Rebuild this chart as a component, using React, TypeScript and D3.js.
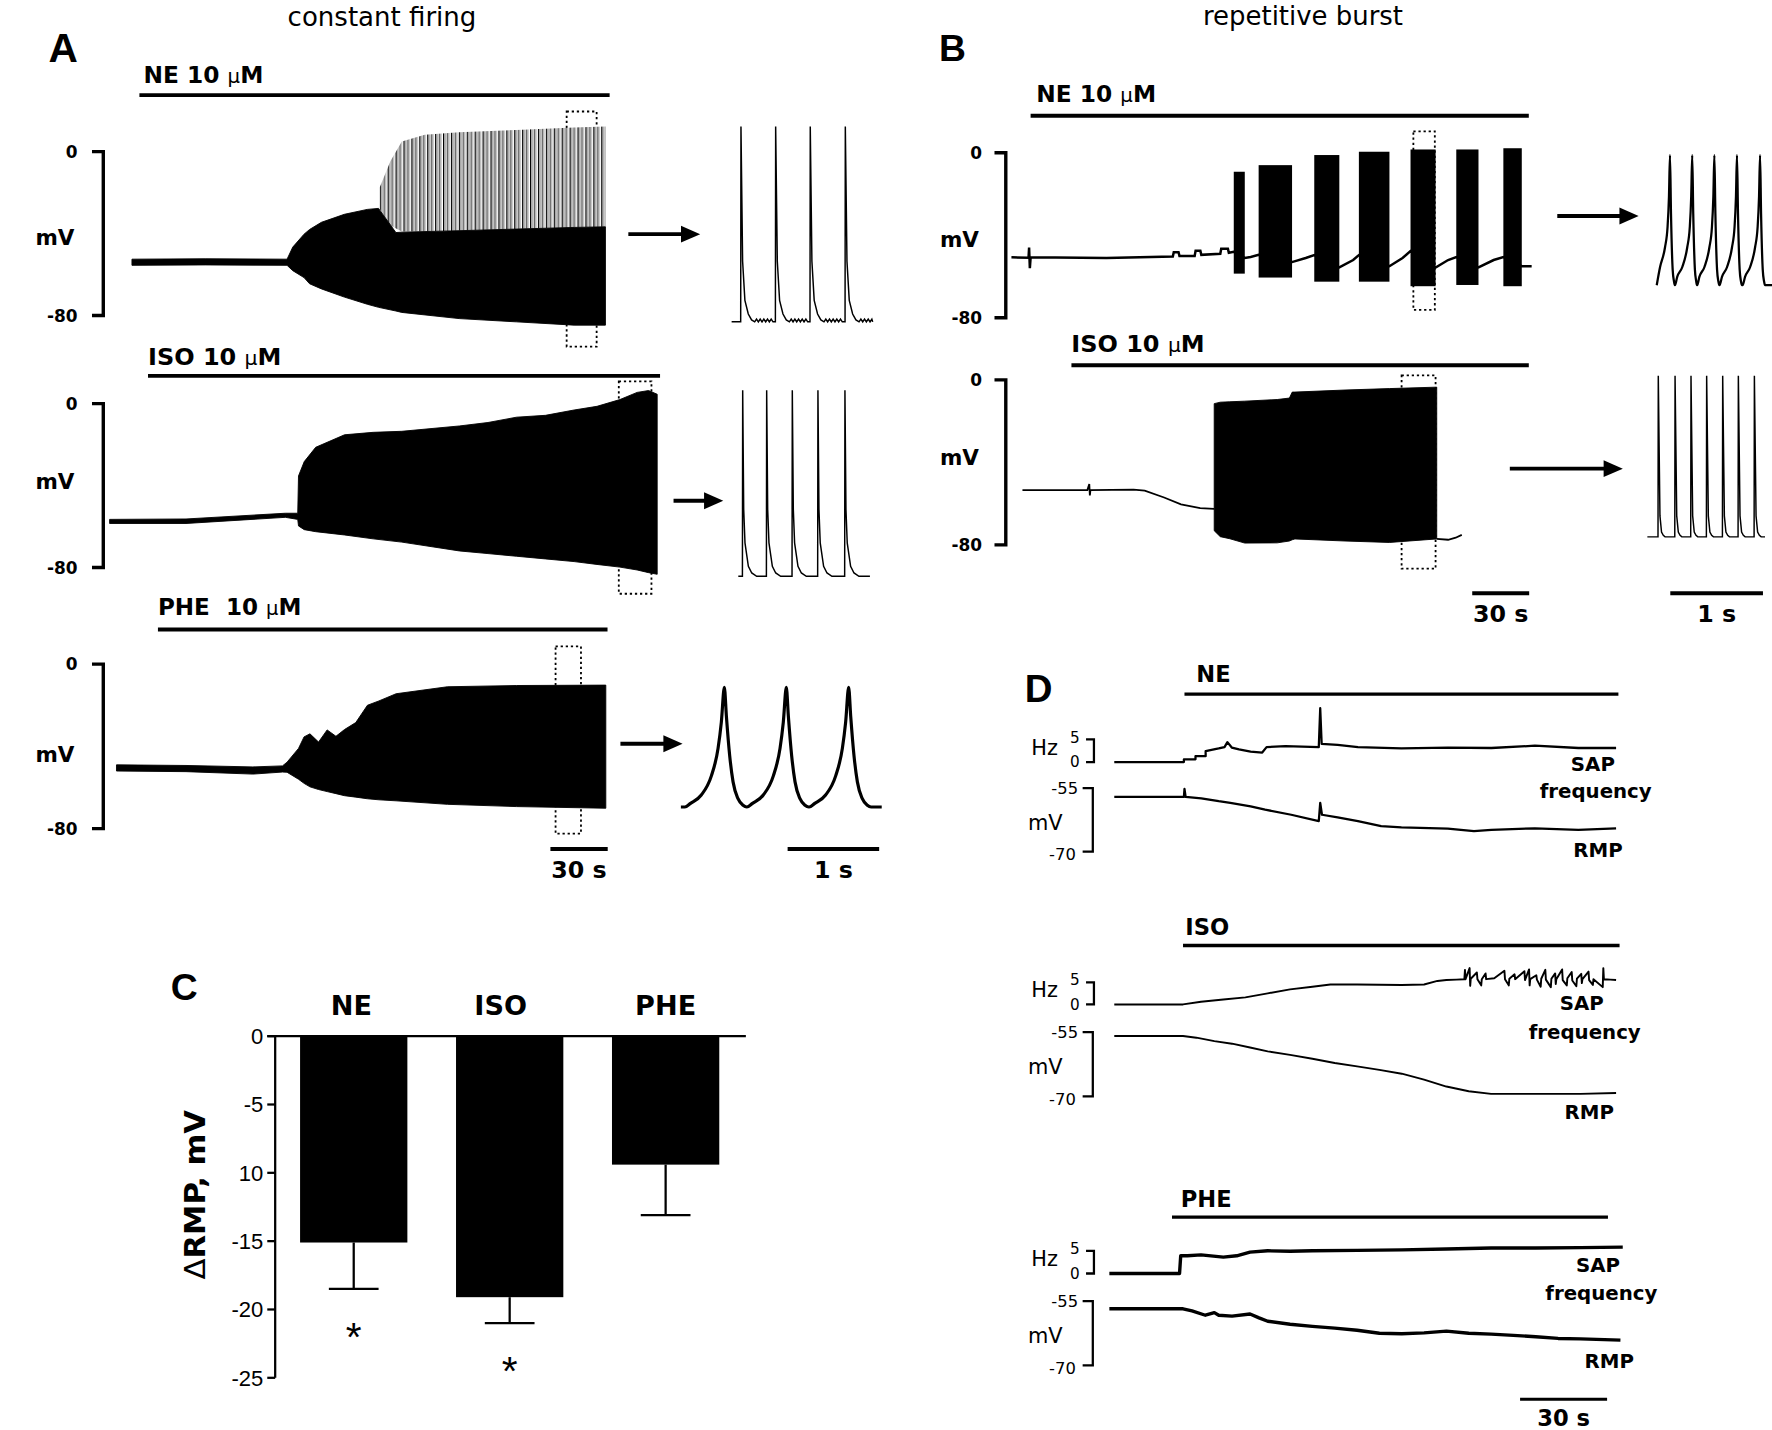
import React from 'react';
import * as d3 from 'd3';

const VB = "'DejaVu Sans', Verdana, sans-serif";
const AR = "'Liberation Sans', Arial, sans-serif";

// ---------------- Panel A (time s, membrane potential mV) ----------------
// envelope rows: [t, upper mV, lower mV]
const A_NE_ENV: [number, number, number][] = [
  [11.7, -52.5, -55.5], [50, -52.3, -55.3], [92.9, -52.5, -55.5], [95.9, -46.6, -58.1], [101.8, -40.3, -61.5],
  [104.7, -38, -64.5], [110.9, -34.5, -67], [122.9, -30.6, -71], [134.9, -28.2, -74.5], [140.8, -27.7, -76],
  [149.9, -39.5, -77.8], [153, -39.3, -78.5], [183, -38.6, -81.5], [213, -37.8, -83.1], [243.2, -37, -84.7], [259.6, -36.7, -84.7],
];
const A_NE_SPIKES: [number, number, number][] = [
  [141.4, -17.5, -28], [147, -4.7, -36], [153, 4.9, -39], [165, 8.2, -39], [183, 9.5, -38.6],
  [213, 10.6, -37.8], [243.2, 11.8, -37], [259.6, 12.3, -36.7],
];
const A_ISO_ENV: [number, number, number][] = [
  [0, -56.5, -58.5], [40, -56.3, -58.5], [92, -53.5, -55.5], [98.5, -53.5, -56.5],
  [98.9, -35.3, -59.7], [101.9, -28.3, -61.5], [107.9, -21.3, -62.5], [123, -15.2, -64.1], [138, -14, -66],
  [153, -13.5, -67.6], [183.1, -10.9, -71.9], [198.1, -9.2, -73.2], [213.1, -6.6, -74.5], [228.2, -5.7, -75.8],
  [243.2, -3.1, -77.1], [255.2, -1.3, -78.5], [267.2, 2, -79.8], [276.2, 5.5, -81.2], [282.2, 6.4, -82.5], [286.7, 4.6, -83.3],
];
const A_PHE_ENV: [number, number, number][] = [
  [3.6, -49, -52], [40, -49.3, -52.3], [75, -50, -53.5], [90.5, -49.5, -52.5], [92.9, -47.7, -52.6], [98.9, -41, -56],
  [101.8, -35.4, -58], [104.9, -33.9, -59.7], [109.4, -37.9, -61], [113.9, -32, -62], [118.5, -35.1, -63],
  [123, -31.8, -64], [128.9, -28.4, -64.7], [135, -20, -65.5], [141, -17.9, -66], [150, -14.4, -66.5],
  [176.9, -11, -68.2], [213, -10.4, -69.3], [259.8, -10.2, -70.1],
];
// drug application bars [start, end] (s)
const A_BARS: [number, number][] = [[15.6, 261.8], [20.1, 288.2], [25.3, 260.7]];
// dotted zoom windows [t0, t1, top mV, bottom mV]
const A_BOXES: [number, number, number, number][] = [[239.3, 255, 19.6, -95.2], [266.6, 283.7, 10.9, -92.8], [233.5, 246.8, 8.6, -82.5]];

// insets: spike times (ms)
const INS_A_NE_TIMES = [102, 481, 859, 1242];
const INS_A_ISO_TIMES = [48, 310, 590, 870, 1165];
const INS_A_PHE_TIMES = [475, 1152, 1833];
const INS_B_NE_TIMES = [143, 383, 622, 866, 1115];
const INS_B_ISO_TIMES = [118, 299, 471, 640, 813, 982, 1155];
// spike waveform shapes: [ms from peak, fraction of amplitude]
const SHAPE_A_NE: [number, number][] = [[-12, 0], [-3, 0], [0, 1], [18, 0.31], [43, 0.11], [80, 0.04], [116, 0.01], [150, 0],
  [170, 0.014], [190, 0], [210, 0.014], [230, 0], [250, 0.014], [270, 0], [290, 0.014], [310, 0], [330, 0.014], [350, 0]];
const SHAPE_A_ISO: [number, number][] = [[-12, 0], [-3, 0], [0, 1], [11, 0.36], [25, 0.18], [62, 0.054], [99, 0.018], [153, 0]];
const SHAPE_A_PHE: [number, number][] = [[-432, 0], [-370, 0.03], [-252, 0.1], [-142, 0.26], [-69, 0.49], [-33, 0.71], [0, 1], [22, 0.76], [58, 0.43], [95, 0.21], [149, 0.07], [204, 0.014], [245, 0]];
const SHAPE_B_NE: [number, number][] = [[-188, 0], [-162, 0.064], [-107, 0.14], [-54, 0.29], [-26, 0.45], [-11, 0.68], [0, 1], [11, 0.55], [29, 0.12], [43, 0.03], [54, 0]];
const SHAPE_B_ISO: [number, number][] = [[-12, 0], [-3, 0], [0, 1], [18, 0.13], [35, 0.03], [54, 0.01], [73, 0]];

// ---------------- Panel B ----------------
const B_NE_LINE: [number, number][] = [
  [0, -50.7], [9, -50.9], [9.3, -46], [9.7, -56], [10.1, -50.7], [50, -51], [85, -50.3], [85.5, -48.2], [88, -48.2], [88.5, -50],
  [96.5, -50], [97, -47.5], [99.5, -47.5], [100, -49.5], [110, -49], [110.5, -46.5], [114, -46.5], [114.5, -48.5], [117.1, -48],
  [122.9, -51], [126, -50.5], [130.2, -49.5], [147.8, -53], [155, -51], [159.5, -49.6], [172.7, -55.6], [180, -52],
  [183, -49.6], [199.1, -55], [206, -51], [210.2, -47.7], [223.4, -55.6], [230, -52], [234.3, -50.6], [246, -55.6],
  [254, -52], [259.1, -50.6], [268.8, -55], [274, -55],
];
// bursts: [start, end, top mV, bottom mV]
const B_NE_BURSTS: [number, number, number, number][] = [
  [117.1, 122.9, -9.2, -58.6], [130.2, 147.8, -6, -60.5], [159.5, 172.7, -1.1, -62.5], [183, 199.1, 0.5, -62.5],
  [210.2, 223.4, 1.6, -64.7], [234.3, 246, 1.6, -64.1], [259.1, 268.8, 2.2, -64.7],
];
const B_ISO_LINE: [number, number][] = [
  [5.8, -53.4], [40, -53.4], [41, -50.5], [41.3, -56], [41.6, -53.4], [64.3, -53.2], [70.2, -53.7], [80.4, -57],
  [89.3, -60.3], [99.4, -62.2], [106.8, -62.5],
];
const B_ISO_AFTER: [number, number][] = [[224, -77.1], [230, -77.5], [234, -76.5], [237.2, -75.1]];
const B_ISO_ENV: [number, number, number][] = [
  [106.8, -11.5, -73.1], [110, -10.8, -76], [115, -10.6, -77], [122.9, -10.3, -79.1], [140, -9.5, -79], [146.4, -8.8, -78.1],
  [147.9, -5.9, -77.5], [149.3, -5.9, -77.1], [175.7, -4.9, -78.1], [199.1, -4.2, -78.8], [224, -3.5, -77.1],
];
const B_BARS: [number, number][] = [[10.1, 272.5], [31.6, 272.5]];
const B_BOXES: [number, number, number, number][] = [[211.7, 223, 10.4, -76.2], [205.5, 223.4, 2.2, -91.5]];

// ---------------- Panel C ----------------
const C_CATS = ['NE', 'ISO', 'PHE'];
const C_MEANS = [-15.1, -19.1, -9.4];
const C_ERRS = [-18.5, -21, -13.1];
const C_SIG = [true, true, false];
const C_TICKS = [0, -5, -10, -15, -20, -25];
const C_TICK_LABELS = ['0', '-5', '10', '-15', '-20', '-25'];

// ---------------- Panel D (time s; Hz; mV) ----------------
const D_NE_SAP: [number, number][] = [
  [0, 0], [24, 0], [24, 0.6], [28, 0.6], [28, 1.3], [31.5, 1.3], [31.5, 2.4], [36, 3], [38, 3.3], [39, 4.4], [40.5, 3.2],
  [43, 2.8], [47, 2.3], [51, 2.1], [52.5, 3.3], [59, 3.5], [70.5, 3.3], [71, 11.9], [71.5, 4], [77, 3.8], [84, 3.3],
  [99, 3], [115, 3.2], [130, 3.1], [145, 3.6], [160, 3.1], [173, 3.1],
];
const D_NE_RMP: [number, number][] = [
  [0, -57.1], [24, -57.1], [24.2, -55.2], [24.6, -57.1], [30, -57.4], [36, -58.1], [40, -58.5], [47, -59.3], [52, -60.1],
  [61, -61.3], [70.5, -62.8], [71, -58.5], [71.6, -61.3], [77, -61.9], [84, -62.8], [92, -64], [99, -64.3], [115, -64.6],
  [124, -65.2], [130, -64.9], [145, -64.5], [160, -64.9], [173, -64.5],
];
const D_ISO_SAP: [number, number][] = [
  [0, 0], [23.7, 0], [29.9, 0.6], [37.6, 1.1], [45.2, 1.6], [52.9, 2.5], [60.6, 3.4], [68.3, 4], [74.5, 4.5], [83.7, 4.5],
  [99.1, 4.4], [106.8, 4.5], [111.4, 5.3], [114.5, 5.5], [118, 5.6], [120.7, 5.7], [120.9, 7.8], [121.1, 5.7], [122.5, 8.2],
  [122.7, 4.2], [122.9, 5.8], [125, 7.2], [125.2, 5.7], [126.5, 4.3], [126.7, 5.7], [128, 7], [128.2, 5.7], [131, 5.9],
  [134.5, 7.6], [134.7, 5.7], [136, 4.3], [136.2, 5.8], [138, 6.8], [138.2, 5.7], [141.4, 7.5],
  [141.6, 5.5], [143, 7.9], [143.2, 4.3], [143.4, 5.7], [145.5, 6.6], [145.7, 5.6], [147, 4.0], [147.2, 5.8], [148.6, 7.8],
  [148.8, 5.6], [150.5, 3.9], [150.7, 5.8], [152, 7.0], [152.2, 4.6], [152.4, 5.7], [154.4, 7.9], [154.6, 5.5], [156, 4.3],
  [156.2, 5.9], [157.7, 7.3], [157.9, 5.4], [159.3, 4.1], [159.5, 5.8], [161, 6.9], [161.2, 4.8], [161.4, 5.7], [163.5, 7.4],
  [163.7, 5.5], [165, 4.4], [165.2, 5.7], [168.4, 3.9], [168.6, 8.2], [168.8, 5.7], [171, 5.6], [173, 5.5],
];
const D_ISO_RMP: [number, number][] = [
  [0, -55.9], [23.7, -55.9], [28.3, -56.3], [34.5, -57.1], [40.6, -57.7], [46.8, -58.6], [52.9, -59.5], [60.6, -60.3],
  [68.3, -61.2], [76, -62.2], [83.7, -63], [91.4, -63.8], [99.1, -64.7], [106.8, -66.1], [114.5, -67.7], [122.2, -68.8],
  [129.9, -69.4], [145.3, -69.4], [160.7, -69.4], [173, -69.2],
];
const D_PHE_SAP: [number, number][] = [
  [-1.7, 0], [22.5, 0], [22.9, 3.9], [25.2, 3.9], [29.9, 4.1], [37.6, 3.6], [42.2, 3.9], [46.8, 4.7], [52.9, 5], [60.6, 4.9],
  [68.3, 5], [83.7, 5.1], [99.1, 5.2], [114.5, 5.4], [129.9, 5.6], [145.3, 5.6], [160.7, 5.7], [175.3, 5.8],
];
const D_PHE_RMP: [number, number][] = [
  [-1.7, -56.8], [23.7, -56.8], [26.8, -57.3], [31.4, -58.3], [34.5, -57.7], [36, -58.3], [40.6, -58.5], [46.8, -58],
  [49.9, -58.9], [52.9, -59.7], [60.6, -60.4], [68.3, -60.9], [76, -61.3], [83.7, -61.8], [91.4, -62.5], [99.1, -62.6],
  [106.8, -62.4], [114.5, -62], [122.2, -62.5], [129.9, -62.7], [137.6, -63], [145.3, -63.3], [153, -63.7], [160.7, -63.8], [174.5, -64.1],
];
const D_BARS: [number, number][] = [[24.2, 173.8], [23.7, 174.2], [19.9, 170.2]];
const D_NAMES = ['NE', 'ISO', 'PHE'];

// ---------------- helpers ----------------
function spikeTrain(times: number[], shape: [number, number][], end: number, base: number, peak: number): [number, number][] {
  const pts: [number, number][] = [[0, 0]];
  times.forEach((t) => shape.forEach(([dt, f]) => { const tt = t + dt; if (tt > 0 && tt < end) pts.push([tt, f]); }));
  pts.push([end, 0]);
  pts.sort((a, b) => a[0] - b[0]);
  return pts.map(([t, f]) => [t, base + f * (peak - base)]);
}

const envArea = (x: any, y: any) => d3.area<[number, number, number]>().x((d) => x(d[0])).y0((d) => y(d[2])).y1((d) => y(d[1]));
const ln = (x: any, y: any) => d3.line<[number, number]>().x((d) => x(d[0])).y((d) => y(d[1]));

function MuLabel({ x, y, drug, gap, len }: { x: number; y: number; drug: string; gap?: number; len: number }) {
  return (
    <text x={x} y={y} fontFamily={VB} fontWeight="bold" fontSize={20} textLength={len} lengthAdjust="spacingAndGlyphs">
      <tspan>{drug}</tspan>
      <tspan dx={gap ?? 0}>{' 10 '}</tspan>
      <tspan fontWeight="normal" fontSize={17}>μ</tspan>
      <tspan>M</tspan>
    </text>
  );
}

function MvAxis({ x, y, mid, lab }: { x: number; y: any; mid: number; lab: number }) {
  const y0 = y(0), y1 = y(-80);
  return (
    <g fontFamily={VB} fontWeight="bold">
      <path d={`M${x - 10},${y0}H${x}V${y1}H${x - 10}`} fill="none" stroke="#000" strokeWidth={3} />
      <text x={x - lab} y={y0} dy="0.36em" textAnchor="end" fontSize={15}>0</text>
      <text x={x - lab} y={y1} dy="0.36em" textAnchor="end" fontSize={15}>-80</text>
      <text x={x - lab - 20} y={mid} dy="0.36em" textAnchor="middle" fontSize={19}>mV</text>
    </g>
  );
}

function Arrow({ x0, x1, y }: { x0: number; x1: number; y: number }) {
  return (
    <g>
      <line x1={x0} x2={x1 - 12} y1={y} y2={y} stroke="#000" strokeWidth={3.5} />
      <path d={`M${x1},${y}L${x1 - 17},${y - 7.5}L${x1 - 17},${y + 7.5}Z`} fill="#000" />
    </g>
  );
}

function DotBox({ x, y, b }: { x: any; y: any; b: [number, number, number, number] }) {
  return (
    <rect x={x(b[0])} y={y(b[2])} width={x(b[1]) - x(b[0])} height={y(b[3]) - y(b[2])} fill="none" stroke="#000" strokeWidth={1.6} strokeDasharray="2,2.5" />
  );
}

export default function App() {
  // Panel A scales
  const xA = d3.scaleLinear().domain([0, 30]).range([97, 97 + 50.7]);
  const yANE = d3.scaleLinear().domain([0, -80]).range([134, 279]);
  const yAISO = d3.scaleLinear().domain([0, -80]).range([357, 502]);
  const yAPHE = d3.scaleLinear().domain([0, -80]).range([587.5, 733]);
  // Panel B scales
  const xB = d3.scaleLinear().domain([0, 30]).range([895, 895 + 50.4]);
  const yBNE = d3.scaleLinear().domain([0, -80]).range([135, 281]);
  const yBISO = d3.scaleLinear().domain([0, -80]).range([336, 482]);
  // inset scales (ms)
  const xInANE = d3.scaleLinear().domain([0, 1000]).range([647.4, 647.4 + 81]);
  const xInAISO = d3.scaleLinear().domain([0, 1000]).range([653.3, 653.3 + 81]);
  const xInAPHE = d3.scaleLinear().domain([0, 1000]).range([602.5, 602.5 + 81]);
  const xInBNE = d3.scaleLinear().domain([0, 1000]).range([1466, 1466 + 82]);
  const xInBISO = d3.scaleLinear().domain([0, 1000]).range([1457.7, 1457.7 + 82]);

  const insANE = spikeTrain(INS_A_NE_TIMES, SHAPE_A_NE, 1541, -83.1, 12.3);
  const insAISO = spikeTrain(INS_A_ISO_TIMES, SHAPE_A_ISO, 1438, -84.3, 6.6);
  const insAPHE = spikeTrain(INS_A_PHE_TIMES, SHAPE_A_PHE, 2194, -69.5, -11.3);
  const insBNE = spikeTrain(INS_B_NE_TIMES, SHAPE_B_NE, 1244, -64.2, -1.2);
  const insBISO = spikeTrain(INS_B_ISO_TIMES, SHAPE_B_ISO, 1270, -76.1, 2);

  // Panel C
  const xC = d3.scaleBand<string>().domain(C_CATS).range([244, 658]).paddingInner(0.312).paddingOuter(0.156);
  const yC = d3.scaleLinear().domain([0, -25]).range([916.7, 1219]);

  // Panel D
  const xD = d3.scaleLinear().domain([0, 30]).range([986, 986 + 77]);
  const dRows = [
    { hz: d3.scaleLinear().domain([0, 5]).range([674.1, 654.1]), mv: d3.scaleLinear().domain([-55, -70]).range([697.2, 753.3]), sap: D_NE_SAP, rmp: D_NE_RMP, sw: 2, labT: 28.3, labY: 602.9, barY: 614, txt: [[1409.5, 681.7], [1412, 706.1], [1414, 757.8]] },
    { hz: d3.scaleLinear().domain([0, 5]).range([888.6, 869]), mv: d3.scaleLinear().domain([-55, -70]).range([913.1, 970]), sap: D_ISO_SAP, rmp: D_ISO_RMP, sw: 1.7, labT: 24.5, labY: 827.6, barY: 836.5, txt: [[1399.6, 893.5], [1402.3, 918.9], [1406.3, 990.1]] },
    { hz: d3.scaleLinear().domain([0, 5]).range([1126.7, 1106.6]), mv: d3.scaleLinear().domain([-55, -70]).range([1151.1, 1208.1]), sap: D_PHE_SAP, rmp: D_PHE_RMP, sw: 3, labT: 22.9, labY: 1067.9, barY: 1076.8, txt: [[1414, 1125.8], [1417, 1150.2], [1424, 1210.3]] },
  ];

  return (
    <svg width={1772} height={1430} viewBox="0 0 1568 1265" style={{ position: 'absolute', left: 0, top: 0, background: '#fff' }}>
      <defs>
        <pattern id="spk" width="7" height="6" patternUnits="userSpaceOnUse">
          <rect width="7" height="6" fill="#fff" />
          <rect x="0" width="1.2" height="6" fill="#000" />
          <rect x="1.2" width="1.3" height="6" fill="#a8a8a8" />
          <rect x="3.3" width="0.9" height="6" fill="#222" />
          <rect x="4.2" width="1.6" height="6" fill="#b5b5b5" />
        </pattern>
      </defs>
      <rect width={1568} height={1265} fill="#fff" />

      {/* Titles & panel letters */}
      <text x={338} y={23} textAnchor="middle" fontFamily={VB} fontSize={23} textLength={167} lengthAdjust="spacingAndGlyphs">constant firing</text>
      <text x={1153} y={22} textAnchor="middle" fontFamily={VB} fontSize={23} textLength={177} lengthAdjust="spacingAndGlyphs">repetitive burst</text>
      <text x={43} y={54.6} fontFamily={AR} fontWeight="bold" fontSize={36}>A</text>
      <text x={830.8} y={54.2} fontFamily={AR} fontWeight="bold" fontSize={33}>B</text>
      <text x={151} y={885} fontFamily={AR} fontWeight="bold" fontSize={33}>C</text>
      <text x={906.7} y={620.7} fontFamily={AR} fontWeight="bold" fontSize={34}>D</text>

      {/* ===== Panel A ===== */}
      <MuLabel x={127} y={73.2} drug="NE" len={106} />
      <MuLabel x={131} y={322.4} drug="ISO" len={118} />
      <MuLabel x={139.7} y={544.2} drug="PHE" gap={7} len={127} />
      {A_BARS.map((b, i) => (
        <line key={i} x1={xA(b[0])} x2={xA(b[1])} y1={[84, 332.4, 556.8][i]} y2={[84, 332.4, 556.8][i]} stroke="#000" strokeWidth={3.5} />
      ))}
      <MvAxis x={91.4} y={yANE} mid={209.5} lab={22.8} />
      <MvAxis x={91.4} y={yAISO} mid={425.7} lab={22.8} />
      <MvAxis x={91.4} y={yAPHE} mid={667.5} lab={22.8} />

      <DotBox x={xA} y={yANE} b={A_BOXES[0]} />
      <DotBox x={xA} y={yAISO} b={A_BOXES[1]} />
      <DotBox x={xA} y={yAPHE} b={A_BOXES[2]} />

      <path d={envArea(xA, yANE)(A_NE_SPIKES) ?? ''} fill="url(#spk)" />
      <path d={envArea(xA, yANE)(A_NE_ENV) ?? ''} fill="#000" stroke="#000" strokeWidth={0.8} />
      <path d={envArea(xA, yAISO)(A_ISO_ENV) ?? ''} fill="#000" stroke="#000" strokeWidth={0.8} />
      <path d={envArea(xA, yAPHE)(A_PHE_ENV) ?? ''} fill="#000" stroke="#000" strokeWidth={0.8} />

      <Arrow x0={556} x1={619.6} y={207} />
      <Arrow x0={596} x1={640} y={443} />
      <Arrow x0={549} x1={604} y={658} />

      <path d={ln(xInANE, yANE)(insANE) ?? ''} fill="none" stroke="#000" strokeWidth={1.3} />
      <path d={ln(xInAISO, yAISO)(insAISO) ?? ''} fill="none" stroke="#000" strokeWidth={1.3} />
      <path d={d3.line<[number, number]>().x((d) => xInAPHE(d[0])).y((d) => yAPHE(d[1])).curve(d3.curveMonotoneX)(insAPHE) ?? ''} fill="none" stroke="#000" strokeWidth={2.8} />

      {/* scale bars A */}
      <line x1={xA(230.8)} x2={xA(260.8)} y1={751} y2={751} stroke="#000" strokeWidth={3.5} />
      <text x={xA(245.8)} y={776.5} textAnchor="middle" fontFamily={VB} fontWeight="bold" fontSize={21}>30 s</text>
      <line x1={xInAPHE(1166)} x2={xInAPHE(2166)} y1={751} y2={751} stroke="#000" strokeWidth={3.5} />
      <text x={xInAPHE(1666)} y={776.5} textAnchor="middle" fontFamily={VB} fontWeight="bold" fontSize={21}>1 s</text>

      {/* ===== Panel B ===== */}
      <MuLabel x={917} y={90.3} drug="NE" len={106} />
      <MuLabel x={948} y={311.3} drug="ISO" len={118} />
      {B_BARS.map((b, i) => (
        <line key={i} x1={xB(b[0])} x2={xB(b[1])} y1={[102.2, 323][i]} y2={[102.2, 323][i]} stroke="#000" strokeWidth={3.5} />
      ))}
      <MvAxis x={890} y={yBNE} mid={211.3} lab={21} />
      <MvAxis x={890} y={yBISO} mid={404.5} lab={21} />

      <DotBox x={xB} y={yBNE} b={B_BOXES[0]} />
      <DotBox x={xB} y={yBISO} b={B_BOXES[1]} />

      <path d={ln(xB, yBNE)(B_NE_LINE) ?? ''} fill="none" stroke="#000" strokeWidth={2.2} />
      {B_NE_BURSTS.map((b, i) => (
        <rect key={i} x={xB(b[0])} y={yBNE(b[2])} width={xB(b[1]) - xB(b[0])} height={yBNE(b[3]) - yBNE(b[2])} fill="#000" />
      ))}
      <path d={ln(xB, yBISO)(B_ISO_LINE) ?? ''} fill="none" stroke="#000" strokeWidth={1.6} />
      <path d={ln(xB, yBISO)(B_ISO_AFTER) ?? ''} fill="none" stroke="#000" strokeWidth={1.6} />
      <path d={envArea(xB, yBISO)(B_ISO_ENV) ?? ''} fill="#000" stroke="#000" strokeWidth={0.8} />

      <Arrow x0={1378} x1={1450} y={191} />
      <Arrow x0={1336} x1={1436} y={414.5} />

      <path d={d3.line<[number, number]>().x((d) => xInBNE(d[0])).y((d) => yBNE(d[1])).curve(d3.curveMonotoneX)(insBNE) ?? ''} fill="none" stroke="#000" strokeWidth={2} />
      <path d={ln(xInBISO, yBISO)(insBISO) ?? ''} fill="none" stroke="#000" strokeWidth={1.3} />

      <line x1={xB(242.7)} x2={xB(272.7)} y1={524.7} y2={524.7} stroke="#000" strokeWidth={3.5} />
      <text x={xB(257.7)} y={550.6} textAnchor="middle" fontFamily={VB} fontWeight="bold" fontSize={21}>30 s</text>
      <line x1={xInBISO(247.6)} x2={xInBISO(1247.6)} y1={524.7} y2={524.7} stroke="#000" strokeWidth={3.5} />
      <text x={xInBISO(747.6)} y={550.6} textAnchor="middle" fontFamily={VB} fontWeight="bold" fontSize={21}>1 s</text>

      {/* ===== Panel C ===== */}
      <g>
        {C_CATS.map((c, i) => (
          <g key={c}>
            <rect x={xC(c)} y={yC(0)} width={xC.bandwidth()} height={yC(C_MEANS[i]) - yC(0)} fill="#000" />
            <line x1={xC(c)! + xC.bandwidth() / 2} x2={xC(c)! + xC.bandwidth() / 2} y1={yC(C_MEANS[i])} y2={yC(C_ERRS[i])} stroke="#000" strokeWidth={2} />
            <line x1={xC(c)! + xC.bandwidth() / 2 - 22} x2={xC(c)! + xC.bandwidth() / 2 + 22} y1={yC(C_ERRS[i])} y2={yC(C_ERRS[i])} stroke="#000" strokeWidth={2} />
            <text x={xC(c)! + xC.bandwidth() / 2 - (c === 'ISO' ? 8 : c === 'NE' ? 2 : 0)} y={898} textAnchor="middle" fontFamily={VB} fontWeight="bold" fontSize={24}>{c}</text>
            {C_SIG[i] && (
              <text x={xC(c)! + xC.bandwidth() / 2} y={yC(C_ERRS[i]) + 55} textAnchor="middle" fontFamily={AR} fontSize={36}>*</text>
            )}
          </g>
        ))}
        <line x1={243.5} x2={243.5} y1={yC(0)} y2={yC(-25)} stroke="#000" strokeWidth={2} />
        <line x1={236.5} x2={660} y1={yC(0)} y2={yC(0)} stroke="#000" strokeWidth={2} />
        {C_TICKS.map((t, i) => (
          <g key={t}>
            <line x1={236.5} x2={243.5} y1={yC(t)} y2={yC(t)} stroke="#000" strokeWidth={2} />
            <text x={233} y={yC(t)} dy="0.36em" textAnchor="end" fontFamily={AR} fontSize={19.5}>{C_TICK_LABELS[i]}</text>
          </g>
        ))}
        <text transform="translate(181.4,1057) rotate(-90)" textAnchor="middle" fontFamily={VB} fontWeight="bold" fontSize={25} textLength={150} lengthAdjust="spacingAndGlyphs">
          <tspan fontWeight="normal">Δ</tspan>
          <tspan>RMP, mV</tspan>
        </text>
      </g>

      {/* ===== Panel D ===== */}
      {dRows.map((r, i) => {
        const hz0 = r.hz(0), hz5 = r.hz(5), m55 = r.mv(-55), m70 = r.mv(-70);
        return (
          <g key={i}>
            <text x={xD(r.labT)} y={r.labY} fontFamily={VB} fontWeight="bold" fontSize={20}>{D_NAMES[i]}</text>
            <line x1={xD(D_BARS[i][0])} x2={xD(D_BARS[i][1])} y1={r.barY} y2={r.barY} stroke="#000" strokeWidth={3} />
            <path d={`M961,${hz5}H968V${hz0}H961`} fill="none" stroke="#000" strokeWidth={2} />
            <path d={`M958,${m55}H967V${m70}H958`} fill="none" stroke="#000" strokeWidth={2} />
            <g fontFamily={VB}>
              <text x={924.4} y={(hz0 + hz5) / 2 - 3} dy="0.36em" textAnchor="middle" fontSize={18.5}>Hz</text>
              <text x={955.5} y={hz5 - 2} dy="0.36em" textAnchor="end" fontSize={13.5}>5</text>
              <text x={955.5} y={hz0} dy="0.36em" textAnchor="end" fontSize={13.5}>0</text>
              <text x={954} y={m55} dy="0.36em" textAnchor="end" fontSize={14.5}>-55</text>
              <text x={925} y={(m55 + m70) / 2 + 2} dy="0.36em" textAnchor="middle" fontSize={18.5}>mV</text>
              <text x={952} y={m70 + 2} dy="0.36em" textAnchor="end" fontSize={14.5}>-70</text>
            </g>
            <path d={ln(xD, r.hz)(r.sap) ?? ''} fill="none" stroke="#000" strokeWidth={r.sw} strokeLinejoin="round" />
            <path d={ln(xD, r.mv)(r.rmp) ?? ''} fill="none" stroke="#000" strokeWidth={r.sw} strokeLinejoin="round" />
            <g fontFamily={VB} fontWeight="bold" fontSize={17.5} textAnchor="middle">
              <text x={r.txt[0][0]} y={r.txt[0][1]}>SAP</text>
              <text x={r.txt[1][0]} y={r.txt[1][1]}>frequency</text>
              <text x={r.txt[2][0]} y={r.txt[2][1]}>RMP</text>
            </g>
          </g>
        );
      })}
      <line x1={xD(139.9)} x2={xD(169.9)} y1={1238} y2={1238} stroke="#000" strokeWidth={2.5} />
      <text x={xD(154.9)} y={1262} textAnchor="middle" fontFamily={VB} fontWeight="bold" fontSize={20}>30 s</text>
    </svg>
  );
}
